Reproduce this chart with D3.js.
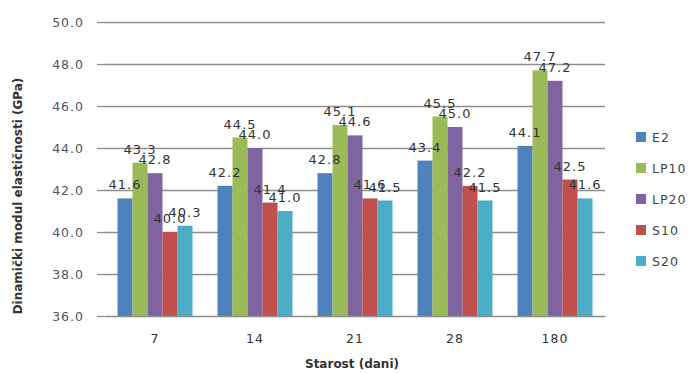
<!DOCTYPE html>
<html lang="hr">
<head>
    <meta charset="UTF-8">
    <title>Dinamički modul elastičnosti</title>
    <script src="https://d3js.org/d3.v7.min.js"></script>
    <style>
        body { margin: 0; background: #fff; }
        svg text { font-family: "DejaVu Sans", sans-serif; }
    </style>
</head>
<body>
    <div id="chart"></div>
    <script>
        // data
        const ages = ["7", "14", "21", "28", "180"];
        const seriesNames = ["E2", "LP10", "LP20", "S10", "S20"];
        const E2 = [41.6, 42.2, 42.8, 43.4, 44.1];
        const LP10 = [43.3, 44.5, 45.1, 45.5, 47.7];
        const LP20 = [42.8, 44.0, 44.6, 45.0, 47.2];
        const S10 = [40.0, 41.4, 41.6, 42.2, 42.5];
        const S20 = [40.3, 41.0, 41.5, 41.5, 41.6];
        const yTicks = [36, 38, 40, 42, 44, 46, 48, 50];

        const seriesValues = [E2, LP10, LP20, S10, S20];
        const colors = ["#4f81bd", "#9bbb59", "#8064a2", "#c0504d", "#4bacc6"];

        const W = 693, H = 373;
        const plot = { left: 105, right: 605, top: 22, bottom: 316 };

        const svg = d3.select("#chart").append("svg")
            .attr("width", W)
            .attr("height", H);

        const x = d3.scaleBand()
            .domain(ages)
            .range([plot.left, plot.right])
            .paddingInner(0.25)
            .paddingOuter(0.125);

        const xs = d3.scaleBand()
            .domain(seriesNames)
            .range([0, x.bandwidth()]);

        const y = d3.scaleLinear()
            .domain([36, 50])
            .range([plot.bottom, plot.top]);

        // one record per bar
        const bars = [];
        seriesNames.forEach((s, i) => {
            ages.forEach((a, j) => bars.push({ age: a, s: s, i: i, v: seriesValues[i][j] }));
        });

        // gridlines
        svg.append("g")
            .selectAll("line")
            .data(yTicks.filter(d => d > 36))
            .enter()
            .append("line")
            .attr("x1", plot.left)
            .attr("x2", plot.right)
            .attr("y1", d => Math.round(y(d)) + 0.5)
            .attr("y2", d => Math.round(y(d)) + 0.5)
            .style("stroke", "#8e8e8e")
            .style("stroke-width", 1.3);

        // y axis (ticks + labels, no spine)
        const yAxis = svg.append("g")
            .attr("transform", `translate(${plot.left},0)`)
            .call(d3.axisLeft(y).tickValues(yTicks).tickFormat(d3.format(".1f")).tickSize(8).tickPadding(13));
        yAxis.select(".domain").remove();
        yAxis.selectAll(".tick line").style("stroke", "#8e8e8e").style("stroke-width", 1.3);
        yAxis.selectAll("text")
            .style("font-size", "12.5px")
            .style("fill", "#555")
            .style("letter-spacing", "1px");

        // bars
        svg.append("g")
            .selectAll("rect")
            .data(bars)
            .enter()
            .append("rect")
            .attr("x", d => x(d.age) + xs(d.s))
            .attr("width", xs.bandwidth())
            .attr("y", d => y(d.v))
            .attr("height", d => y(36) - y(d.v))
            .style("fill", d => colors[d.i]);

        // x axis
        const xAxis = svg.append("g")
            .attr("transform", `translate(0,${plot.bottom})`)
            .call(d3.axisBottom(x).tickSize(0).tickPadding(18));
        xAxis.select(".domain").style("stroke", "#8e8e8e").style("stroke-width", 1.3);
        xAxis.selectAll("text")
            .style("font-size", "12.5px")
            .style("fill", "#333")
            .style("letter-spacing", "1px");

        // data labels, on top of every bar
        svg.append("g")
            .selectAll("text")
            .data(bars)
            .enter()
            .append("text")
            .attr("x", d => x(d.age) + xs(d.s) + xs.bandwidth() / 2)
            .attr("y", d => y(d.v) - 9)
            .attr("text-anchor", "middle")
            .style("fill", "#333")
            .style("font-size", "13px")
            .style("letter-spacing", "1px")
            .text(d => d.v.toFixed(1));

        // axis titles
        svg.append("text")
            .attr("x", 352)
            .attr("y", 368)
            .attr("text-anchor", "middle")
            .style("font-size", "12px")
            .style("font-weight", "bold")
            .style("fill", "#333")
            .text("Starost (dani)");

        svg.append("text")
            .attr("transform", "translate(22,196) rotate(-90)")
            .attr("text-anchor", "middle")
            .style("font-size", "12px")
            .style("font-weight", "bold")
            .style("fill", "#333")
            .text("Dinamički modul elastičnosti (GPa)");

        // legend
        const legend = svg.append("g")
            .selectAll("g")
            .data(seriesNames)
            .enter()
            .append("g")
            .attr("transform", (d, i) => `translate(636,${137 + i * 31})`);

        legend.append("rect")
            .attr("x", 0)
            .attr("y", -5)
            .attr("width", 10)
            .attr("height", 10)
            .style("fill", (d, i) => colors[i]);

        legend.append("text")
            .attr("x", 16)
            .attr("y", 5)
            .style("font-size", "12.5px")
            .style("fill", "#444")
            .style("letter-spacing", "1px")
            .text(d => d);
    </script>
</body>
</html>
